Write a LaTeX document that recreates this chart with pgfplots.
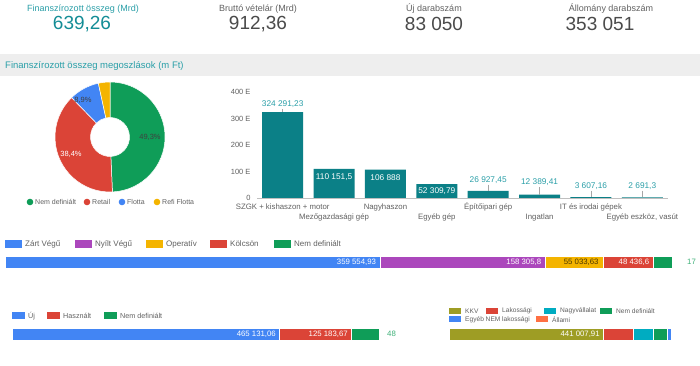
\documentclass[border=0pt]{standalone}
\usepackage{pgfplots}
\pgfplotsset{compat=1.18}
\usepackage{fontspec}
\setmainfont{Liberation Sans}
\definecolor{cGreen}{HTML}{0F9D58}
\definecolor{cRed}{HTML}{DB4437}
\definecolor{cBlue}{HTML}{4285F4}
\definecolor{cYellow}{HTML}{F4B400}
\definecolor{cPurple}{HTML}{AB47BC}
\definecolor{cTeal}{HTML}{0B8087}
\definecolor{cOlive}{HTML}{9E9D24}
\definecolor{cCyan}{HTML}{00ACC1}
\definecolor{cOrange}{HTML}{FF7043}
\definecolor{tTeal}{HTML}{2A9FA8}
\definecolor{vTeal}{HTML}{138D96}
\definecolor{tGray}{HTML}{616161}
\definecolor{vGray}{HTML}{4A4A4A}
\definecolor{band}{HTML}{EEEEEE}
\newcommand{\fs}[1]{\fontsize{#1}{#1}\selectfont}
\begin{document}
\begin{tikzpicture}
\path[use as bounding box, fill=white] (0,0) rectangle (700pt,366pt);

% ---------- KPIs ----------
\node[text=tTeal, font=\fs{9}] at (83pt,357pt) {Finanszírozott összeg (Mrd)};
\node[text=vTeal, font=\fs{19}] at (82pt,342pt) {639,26};
\node[text=tGray, font=\fs{9}] at (258pt,357pt) {Bruttó vételár (Mrd)};
\node[text=vGray, font=\fs{19}] at (258pt,342pt) {912,36};
\node[text=tGray, font=\fs{9}] at (434pt,357pt) {Új darabszám};
\node[text=vGray, font=\fs{19}] at (434pt,342pt) {83 050};
\node[text=tGray, font=\fs{9}] at (611pt,357pt) {Állomány darabszám};
\node[text=vGray, font=\fs{19}] at (600pt,342pt) {353 051};

% ---------- band ----------
\fill[band] (0,290pt) rectangle (700pt,312pt);
\node[anchor=west, text=tTeal, font=\fs{9.5}, inner sep=0] at (5pt,300pt) {Finanszírozott összeg megoszlások (m Ft)};

% ---------- donut ----------
\def\cx{110pt}\def\cy{229pt}\def\R{55pt}\def\r{19.5pt}
\foreach \a/\b/\c in {90/-87.48/cGreen, -87.48/-225.72/cRed, -225.72/-257.76/cBlue, -257.76/-270/cYellow}{
  \filldraw[fill=\c, draw=white, line width=0.5pt]
    ([shift={(\cx,\cy)}]\a:\R) arc[start angle=\a, end angle=\b, radius=\R]
    -- ([shift={(\cx,\cy)}]\b:\r) arc[start angle=\b, end angle=\a, radius=\r] -- cycle;
}
\node[font=\fs{7.5}, text=black!75] at (150pt,229pt) {49,3\%};
\node[font=\fs{7.5}, text=white] at (71pt,212pt) {38,4\%};
\node[font=\fs{7.5}, text=black!75] at (83pt,266pt) {8,9\%};
% donut legend
\foreach \x/\c/\t in {30/cGreen/Nem definiált, 87/cRed/Retail, 122/cBlue/Flotta, 157/cYellow/Refi Flotta}{
  \fill[\c] (\x pt,164pt) circle (3.3pt);
  \node[anchor=west, inner sep=0, font=\fs{7}, text=tGray] at (\x pt+5pt,164pt) {\t};
}

% ---------- column chart ----------
\begin{axis}[
  at={(257pt,168pt)}, anchor=south west,
  scale only axis, width=411pt, height=106pt,
  xmin=-0.5, xmax=7.5, ymin=0, ymax=400000,
  ybar, bar width=41pt,
  axis x line*=bottom, axis y line*=left,
  axis line style={-},
  x axis line style={draw=black!25},
  y axis line style={draw=none},
  xtick={0,1,2,3,4,5,6,7},
  xticklabels={{\strut SZGK + kishaszon + motor},{\strut\\\strut Mezőgazdasági gép},{\strut Nagyhaszon},{\strut\\\strut Egyéb gép},{\strut Építőipari gép},{\strut\\\strut Ingatlan},{\strut IT és irodai gépek},{\strut\\\strut Egyéb eszköz, vasút}},
  xticklabel style={align=center, anchor=north, font=\fontsize{7.8}{10}\selectfont, text=tGray, inner sep=1pt, yshift=-3pt},
  ytick={0,100000,200000,300000,400000},
  yticklabels={0,100 E,200 E,300 E,400 E},
  yticklabel style={font=\fs{7.5}, text=tGray, xshift=-3pt},
  scaled y ticks=false,
  major tick length=0pt,
  clip=false,
]
\addplot[fill=cTeal, draw=none] coordinates {(0,324291.23) (1,110151.5) (2,106888) (3,52309.79) (4,26927.45) (5,12389.41) (6,3607.16) (7,2691.3)};
% inside labels
\node[anchor=north, text=white, font=\fs{8.3}, inner sep=0] at (axis cs:1,110151.5) [yshift=-5pt] {110 151,5};
\node[anchor=north, text=white, font=\fs{8.3}, inner sep=0] at (axis cs:2,106888) [yshift=-5pt] {106 888};
\node[anchor=north, text=white, font=\fs{8.3}, inner sep=0] at (axis cs:3,52309.79) [yshift=-3pt] {52 309,79};
% outside labels with leader lines
\draw[black!35] (axis cs:0,335000) -- (axis cs:0,324291.23);
\node[text=tTeal, font=\fs{8.3}] at (axis cs:0,355000) {324 291,23};
\draw[black!35] (axis cs:4,50000) -- (axis cs:4,26927.45);
\node[text=tTeal, font=\fs{8.3}] at (axis cs:4,68000) {26 927,45};
\draw[black!35] (axis cs:5,42000) -- (axis cs:5,12389.41);
\node[text=tTeal, font=\fs{8.3}] at (axis cs:5,60000) {12 389,41};
\draw[black!35] (axis cs:6,28000) -- (axis cs:6,3607.16);
\node[text=tTeal, font=\fs{8.3}] at (axis cs:6,46000) {3 607,16};
\draw[black!35] (axis cs:7,28000) -- (axis cs:7,2691.3);
\node[text=tTeal, font=\fs{8.3}] at (axis cs:7,46000) {2 691,3};
\end{axis}

% ---------- stacked bar 1 ----------
\foreach \x/\c/\t in {5/cBlue/Zárt Végű, 75/cPurple/Nyílt Végű, 146/cYellow/Operatív, 210/cRed/Kölcsön, 274/cGreen/Nem definiált}{
  \fill[\c] (\x pt,118pt) rectangle (\x pt+17pt,126pt);
  \node[anchor=west, inner sep=0, font=\fs{8}, text=tGray] at (\x pt+20pt,122pt) {\t};
}
\begin{axis}[
  at={(5pt,104pt)}, anchor=west,
  scale only axis, width=667pt, height=12pt,
  xmin=0, xmax=639259.96, ymin=-0.5, ymax=0.5,
  xbar stacked, bar width=12pt, hide axis, clip=false,
]
\addplot[fill=cBlue, draw=white, line width=0.4pt] coordinates {(359554.93,0)};
\addplot[fill=cPurple, draw=white, line width=0.4pt] coordinates {(158305.8,0)};
\addplot[fill=cYellow, draw=white, line width=0.4pt] coordinates {(55033.63,0)};
\addplot[fill=cRed, draw=white, line width=0.4pt] coordinates {(48436.6,0)};
\addplot[fill=cGreen, draw=white, line width=0.4pt] coordinates {(17929,0)};
\coordinate (a1) at (axis cs:359554.93,0);
\coordinate (a2) at (axis cs:517860.73,0);
\coordinate (a3) at (axis cs:572894.36,0);
\coordinate (a4) at (axis cs:621330.96,0);
\coordinate (a5) at (axis cs:639259.96,0);
\end{axis}
\node[anchor=east, inner sep=0, xshift=-4pt, text=white, font=\fs{7.8}] at (a1) {359 554,93};
\node[anchor=east, inner sep=0, xshift=-4pt, text=white, font=\fs{7.8}] at (a2) {158 305,8};
\node[anchor=east, inner sep=0, xshift=-4pt, text=black!70!cYellow, font=\fs{7.8}] at (a3) {55 033,63};
\node[anchor=east, inner sep=0, xshift=-4pt, text=white, font=\fs{7.8}] at (a4) {48 436,6};
\node[anchor=west, inner sep=0, xshift=15pt, text=cGreen!80, font=\fs{7.8}] at (a5) {17};

% ---------- stacked bar 2 ----------
\foreach \x/\c/\t in {12/cBlue/Új, 47/cRed/Használt, 104/cGreen/Nem definiált}{
  \fill[\c] (\x pt,46.5pt) rectangle (\x pt+13pt,53.5pt);
  \node[anchor=west, inner sep=0, font=\fs{7.2}, text=tGray] at (\x pt+16pt,50pt) {\t};
}
\begin{axis}[
  at={(12pt,32pt)}, anchor=west,
  scale only axis, width=367pt, height=12pt,
  xmin=0, xmax=639259.73, ymin=-0.5, ymax=0.5,
  xbar stacked, bar width=12pt, hide axis, clip=false,
]
\addplot[fill=cBlue, draw=white, line width=0.4pt] coordinates {(465131.06,0)};
\addplot[fill=cRed, draw=white, line width=0.4pt] coordinates {(125183.67,0)};
\addplot[fill=cGreen, draw=white, line width=0.4pt] coordinates {(48945,0)};
\coordinate (b1) at (axis cs:465131.06,0);
\coordinate (b2) at (axis cs:590314.73,0);
\coordinate (b3) at (axis cs:639259.73,0);
\end{axis}
\node[anchor=east, inner sep=0, xshift=-3pt, text=white, font=\fs{7.8}] at (b1) {465 131,06};
\node[anchor=east, inner sep=0, xshift=-3pt, text=white, font=\fs{7.8}] at (b2) {125 183,67};
\node[anchor=west, inner sep=0, xshift=8pt, text=cGreen!80, font=\fs{7.8}] at (b3) {48};

% ---------- stacked bar 3 ----------
\foreach \x/\y/\c/\t in {449/55/cOlive/KKV, 486/55/cRed/Lakossági, 544/55/cCyan/Nagyvállalat, 600/55/cGreen/Nem definiált, 449/46.5/cBlue/Egyéb NEM lakossági, 536/46.5/cOrange/Állami}{
  \fill[\c] (\x pt,\y pt-3pt) rectangle (\x pt+12pt,\y pt+3pt);
  \node[anchor=west, inner sep=0, font=\fs{6.6}, text=tGray] at (\x pt+16pt,\y pt) {\t};
}
\begin{axis}[
  at={(449pt,32pt)}, anchor=west,
  scale only axis, width=223pt, height=12pt,
  xmin=0, xmax=639307.91, ymin=-0.5, ymax=0.5,
  xbar stacked, bar width=12pt, hide axis, clip=false,
]
\addplot[fill=cOlive, draw=white, line width=0.4pt] coordinates {(441007.91,0)};
\addplot[fill=cRed, draw=white, line width=0.4pt] coordinates {(85900,0)};
\addplot[fill=cCyan, draw=white, line width=0.4pt] coordinates {(57300,0)};
\addplot[fill=cGreen, draw=white, line width=0.4pt] coordinates {(40100,0)};
\addplot[fill=cBlue, draw=white, line width=0.4pt] coordinates {(11500,0)};
\addplot[fill=cOrange, draw=white, line width=0.2pt] coordinates {(3500,0)};
\coordinate (c1) at (axis cs:441007.91,0);
\end{axis}
\node[anchor=east, inner sep=0, xshift=-3pt, text=white, font=\fs{7.8}] at (c1) {441 007,91};
\end{tikzpicture}
\end{document}
